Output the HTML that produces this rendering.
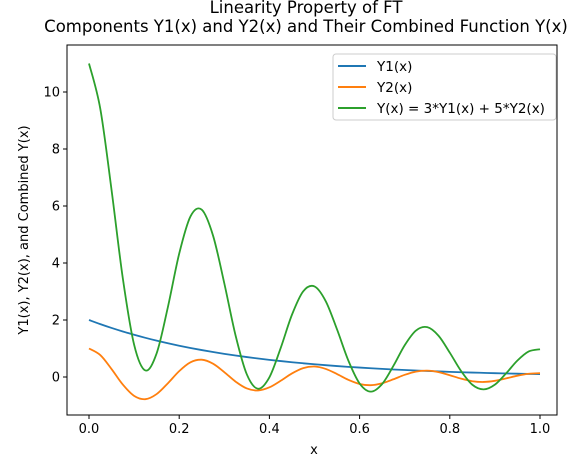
<!DOCTYPE html>
<html><head><meta charset="utf-8"><style>
body{margin:0;background:#fff;}
svg text{font-family:"DejaVu Sans","Liberation Sans",sans-serif;fill:#000;}
</style></head><body>
<svg id="chart" width="578" height="455" xmlns="http://www.w3.org/2000/svg">
<text x="306" y="13" font-size="16.5" text-anchor="middle">Linearity Property of FT</text>
<text x="306" y="32" font-size="16.5" text-anchor="middle">Components Y1(x) and Y2(x) and Their Combined Function Y(x)</text>
<g id="plot"></g>
<text x="314" y="454" font-size="13" text-anchor="middle">x</text>
<text transform="translate(28,230) rotate(-90)" font-size="13" text-anchor="middle">Y1(x), Y2(x), and Combined Y(x)</text>
<g>
<rect x="333" y="54" width="223" height="66" rx="3" fill="#fff" stroke="#ccc"/>
<line x1="338" y1="66" x2="366" y2="66" stroke="#1f77b4" stroke-width="2"/>
<text x="377" y="71" font-size="13.5">Y1(x)</text>
<line x1="338" y1="87" x2="366" y2="87" stroke="#ff7f0e" stroke-width="2"/>
<text x="377" y="92" font-size="13.5">Y2(x)</text>
<line x1="338" y1="108" x2="366" y2="108" stroke="#2ca02c" stroke-width="2"/>
<text x="377" y="113" font-size="13.5">Y(x) = 3*Y1(x) + 5*Y2(x)</text>
</g>
</svg>
<script>
const xs = [0,0.025,0.05,0.075,0.1,0.125,0.15,0.175,0.2,0.225,0.25,0.275,0.3,0.325,0.35,0.375,0.4,0.425,0.45,0.475,0.5,0.525,0.55,0.575,0.6,0.625,0.65,0.675,0.7,0.725,0.75,0.775,0.8,0.825,0.85,0.875,0.9,0.925,0.95,0.975,1];
const y1 = [2,1.855,1.721,1.597,1.482,1.375,1.275,1.183,1.098,1.018,0.945,0.876,0.813,0.754,0.700,0.649,0.602,0.559,0.518,0.481,0.446,0.414,0.384,0.356,0.331,0.307,0.285,0.264,0.245,0.227,0.211,0.196,0.181,0.168,0.156,0.145,0.134,0.125,0.116,0.107,0.100];
const y2 = [1,0.770,0.280,-0.266,-0.662,-0.779,-0.599,-0.218,0.207,0.516,0.607,0.467,0.170,-0.161,-0.402,-0.472,-0.363,-0.132,0.126,0.313,0.368,0.283,0.103,-0.098,-0.244,-0.287,-0.220,-0.080,0.076,0.190,0.223,0.172,0.062,-0.059,-0.148,-0.174,-0.134,-0.049,0.046,0.115,0.135];
const yc = [11,9.415,6.563,3.461,1.136,0.230,0.830,2.459,4.329,5.634,5.870,4.963,3.289,1.457,0.090,-0.413,-0.009,1.017,2.184,3.008,3.178,2.657,1.667,0.578,-0.227,-0.514,-0.245,0.392,1.115,1.631,1.748,1.448,0.853,0.209,-0.272,-0.435,-0.268,0.130,0.578,0.896,0.975];
const xTicks = [0,0.2,0.4,0.6,0.8,1];
const xTickLabels = ["0.0","0.2","0.4","0.6","0.8","1.0"];
const yTicks = [0,2,4,6,8,10];
const yTickLabels = ["0","2","4","6","8","10"];

const L=67,R=557,T=45,B=415;
const sx = v => 89 + v*(540-89);
const sy = v => 377 - v*28.5;
const NS="http://www.w3.org/2000/svg";
const g=document.getElementById('plot');
function mk(tag,attrs){const e=document.createElementNS(NS,tag);for(const k in attrs)e.setAttribute(k,attrs[k]);g.appendChild(e);return e;}
xTicks.forEach((t,i)=>{
  const l=mk('line',{x1:sx(t),x2:sx(t),y1:B,y2:B+4,stroke:'#000'});
  
  
  const tx=mk('text',{x:sx(t),y:B+18,'font-size':13,'text-anchor':'middle'});
  tx.textContent=xTickLabels[i];
  
  
});
yTicks.forEach((t,i)=>{
  const l=mk('line',{x1:L-4,x2:L,y1:sy(t),y2:sy(t),stroke:'#000'});
  
  
  const tx=mk('text',{x:L-7,y:sy(t)+4.5,'font-size':13,'text-anchor':'end'});
  tx.textContent=yTickLabels[i];
  
  
});
function smooth(ys){
  const p=xs.map((x,i)=>[sx(x),sy(ys[i])]);
  let d=`M${p[0][0]},${p[0][1]}`;
  for(let i=0;i<p.length-1;i++){
    const p0=p[Math.max(i-1,0)],p1=p[i],p2=p[i+1],p3=p[Math.min(i+2,p.length-1)];
    const c1=[p1[0]+(p2[0]-p0[0])/6,p1[1]+(p2[1]-p0[1])/6];
    const c2=[p2[0]-(p3[0]-p1[0])/6,p2[1]-(p3[1]-p1[1])/6];
    d+=` C${c1[0]},${c1[1]} ${c2[0]},${c2[1]} ${p2[0]},${p2[1]}`;
  }
  return d;
}
[[y1,'#1f77b4','line-y1'],[y2,'#ff7f0e','line-y2'],[yc,'#2ca02c','line-combined']].forEach(([ys,c,n])=>{
  const p=mk('path',{d:smooth(ys),fill:'none',stroke:c,'stroke-width':1.8});
  
  
});
const fr=mk('rect',{x:L,y:T,width:R-L,height:B-T,fill:'none',stroke:'#000','stroke-width':1});


</script>
</body></html>
